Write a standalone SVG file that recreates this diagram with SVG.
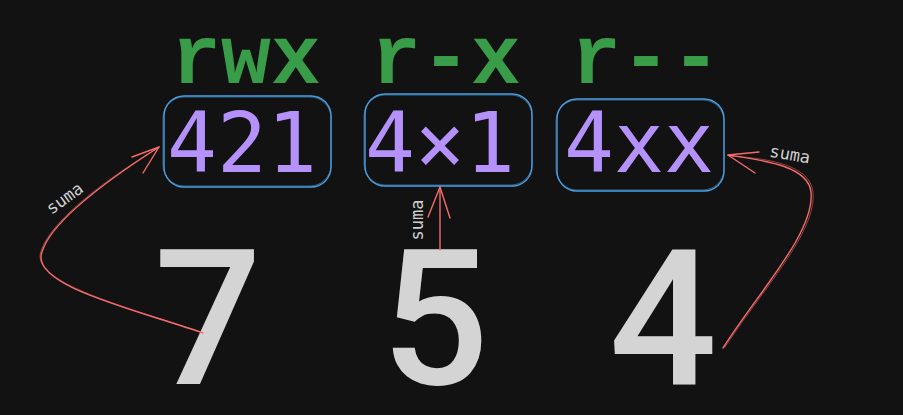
<svg xmlns="http://www.w3.org/2000/svg" width="903" height="415" viewBox="0 0 903 415">
<style>
.perm{font-family:"Liberation Mono","DejaVu Sans Mono",monospace;font-weight:bold;font-size:83px;fill:#389c48;text-anchor:middle}
.oct{font-family:"DejaVu Sans Mono","Liberation Mono",monospace;font-size:83px;fill:#b592fb;text-anchor:middle}
.big{font-family:Roboto,"Liberation Sans",sans-serif;font-weight:500;font-size:190px;fill:#d4d4d4;text-anchor:middle}
.box{fill:#121212;stroke:#4a9fe2;stroke-width:1.4}
.box2{fill:none;stroke:#4a9fe2;stroke-width:0.8;opacity:0.7}
.arr{fill:none;stroke:#f56b6b;stroke-width:1.4;stroke-linecap:round;stroke-linejoin:round}
.arr2{fill:none;stroke:#f56b6b;stroke-width:0.8;opacity:0.7;stroke-linecap:round}
.lbl{font-family:"DejaVu Sans Mono","Liberation Mono",monospace;font-size:17px;fill:#cfcfcf;text-anchor:middle}
</style>
<rect width="903" height="415" fill="#121212"/>

<g id="perm-rwx"><text class="perm" x="246" y="83">rwx</text></g>
<g id="perm-rx"><text class="perm" x="446" y="83">r-x</text></g>
<g id="perm-r"><text class="perm" x="646" y="83">r--</text></g>

<g id="box-421">
<rect class="box" x="164" y="96" width="167" height="91" rx="20"/>
<rect class="box2" x="163" y="97" width="168" height="89" rx="21"/>
<text class="oct" x="242" y="172">421</text>
</g>
<g id="box-4x1">
<rect class="box" x="365" y="94" width="167" height="92" rx="20"/>
<rect class="box2" x="364" y="95" width="168" height="90" rx="21"/>
<text class="oct" x="440" y="172">4×1</text>
</g>
<g id="box-4xx">
<rect class="box" x="557" y="99" width="167" height="92" rx="20"/>
<rect class="box2" x="556" y="100" width="168" height="90" rx="21"/>
<text class="oct" x="639" y="172">4xx</text>
</g>

<g id="digit-7"><text class="big" x="208" y="384">7</text></g>
<g id="digit-5"><text class="big" x="435" y="384">5</text></g>
<g id="digit-4"><text class="big" x="663" y="384">4</text></g>

<g id="connectors">
<path class="arr" d="M203,333 C130,308 30,285 42,252 C52,218 120,172 159,147"/>
<path class="arr" d="M159,147 L132,157 M159,147 L143,173"/>
<path class="arr2" d="M201,332 C128,307 29,283 41,251 C52,217 119,171 158,148"/>

<path class="arr" d="M440,250 L440,187"/>
<path class="arr" d="M440,187 L428,217 M440,187 L450,218"/>

<path class="arr" d="M723,348 C760,290 815,232 811,192 C808,165 760,160 728,155"/>
<path class="arr2" d="M725,347 C762,290 817,232 813,192 C810,163 762,158 729,156"/>
<path class="arr" d="M728,155 L759,152 M728,155 L755,173"/>

<text class="lbl" transform="translate(68,203) rotate(-36)">suma</text>
<text class="lbl" transform="translate(423,220) rotate(-90)">suma</text>
<text class="lbl" transform="translate(789,160) rotate(10)">suma</text>
</g>
</svg>
